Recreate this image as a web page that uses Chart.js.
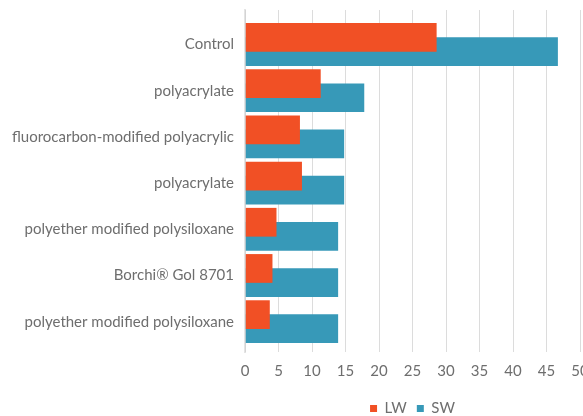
<!DOCTYPE html>
<html>
<head>
<meta charset="utf-8">
<script src="https://cdn.jsdelivr.net/npm/chart.js@4"></script>
<style>
  html, body { margin: 0; padding: 0; background: #fff; overflow: hidden; }
  #wrap { width: 589px; height: 416px; }
</style>
</head>
<body>
<div id="wrap"><canvas id="chart"></canvas></div>
<script>
// ================= DATA =================
const categories = [
  "Control",
  "polyacrylate",
  "fluorocarbon-modified polyacrylic",
  "polyacrylate",
  "polyether modified polysiloxane",
  "Borchi\u00AE Gol 8701",
  "polyether modified polysiloxane"
];
const lwValues = [28.6, 11.3, 8.2, 8.5, 4.7, 4.1, 3.7];
const swValues = [46.7, 17.8, 14.8, 14.8, 13.9, 13.9, 13.9];
const xTicks = [0, 5, 10, 15, 20, 25, 30, 35, 40, 45, 50];

// ================= CHART =================
const gray = "#6e6e6e";
Chart.defaults.font.family = "Lato, 'Open Sans', sans-serif";
Chart.defaults.color = gray;

// bars sit on a numeric index axis so the empty space above/below can be set freely
const toPoints = vals => vals.map((v, i) => ({ x: v, y: i }));

new Chart(document.getElementById("chart"), {
  type: "bar",
  data: {
    datasets: [
      { label: "LW", data: toPoints(lwValues), backgroundColor: "#F15025" },
      { label: "SW", data: toPoints(swValues), backgroundColor: "#3799B8" }
    ]
  },
  options: {
    indexAxis: "y",
    responsive: true,
    maintainAspectRatio: false,
    animation: false,
    categoryPercentage: 0.61,
    barPercentage: 2.04,
    layout: { padding: { top: 10, left: 0, right: 9, bottom: -10 } },
    scales: {
      x: {
        type: "linear",
        min: 0,
        max: 50,
        afterBuildTicks: s => { s.ticks = xTicks.map(v => ({ value: v })); },
        afterFit: s => { s.height = 39; s.paddingLeft = 0; s.paddingRight = 0; },
        grid: { color: "#dcdcdc", lineWidth: 1, drawTicks: false },
        border: { display: false },
        ticks: { font: { size: 15 }, color: gray, padding: 10 }
      },
      y: {
        type: "linear",
        bounds: "data",
        offset: false,
        reverse: true,
        min: -0.747,
        max: 6.656,
        afterBuildTicks: s => { s.ticks = categories.map((_, i) => ({ value: i })); },
        afterFit: s => { s.width = 245; s.paddingTop = 0; s.paddingBottom = 0; },
        grid: { display: false, drawTicks: false },
        border: { display: true, color: "rgba(205,205,205,0.55)", width: 2, z: 1 },
        ticks: {
          font: { size: 15 },
          color: gray,
          padding: 11,
          callback: v => categories[v]
        }
      }
    },
    plugins: {
      tooltip: { enabled: false },
      legend: {
        position: "bottom",
        fullSize: false,
        labels: {
          boxWidth: 7,
          boxHeight: 7,
          padding: 10,
          font: { size: 15 },
          color: gray
        }
      }
    }
  }
});
</script>
</body>
</html>
